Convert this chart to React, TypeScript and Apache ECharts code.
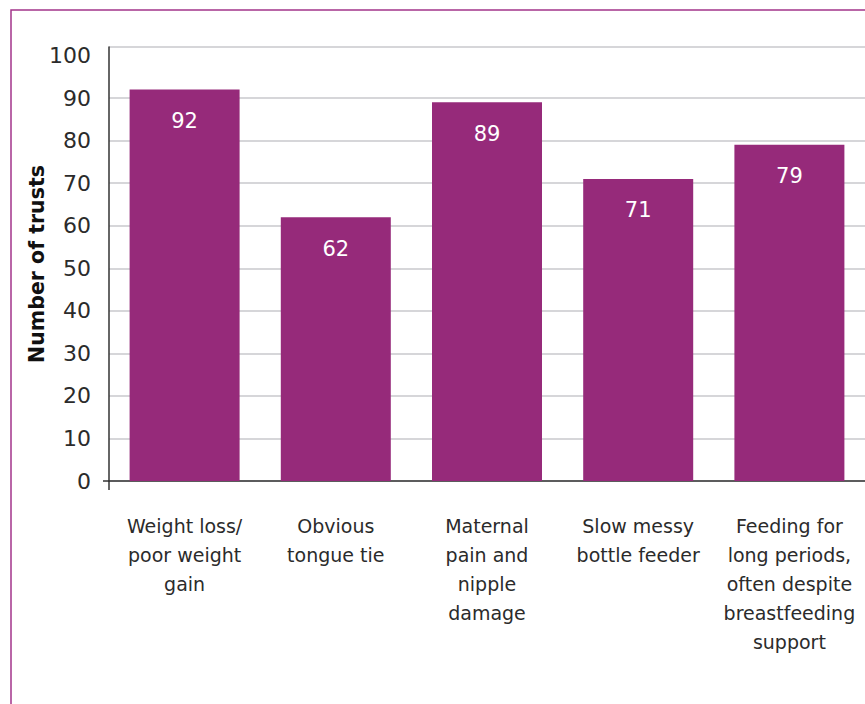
import React, { useEffect, useRef } from "react";
import * as echarts from "echarts";

const categories = [
  "Weight loss/\npoor weight\ngain",
  "Obvious\ntongue tie",
  "Maternal\npain and\nnipple\ndamage",
  "Slow messy\nbottle feeder",
  "Feeding for\nlong periods,\noften despite\nbreastfeeding\nsupport",
];
const trusts = [92, 62, 89, 71, 79];
const yAxisTitle = "Number of trusts";
const yMax = 102;
const yStep = 10;

const PURPLE = "#962a7a";
const FRAME = "#a3358a";
const GRID = "#c9c8cd";
const TEXT = "#2b2b2b";

export default function App() {
  const ref = useRef<HTMLDivElement>(null);

  useEffect(() => {
    if (!ref.current) return;
    const chart = echarts.init(ref.current, null, { renderer: "svg" });

    // one colour per split line; the line at 100 is left out, the top edge (102) is drawn
    const tickCount = Math.floor(yMax / yStep) + 2;
    const splitColors: string[] = [];
    for (let i = 0; i < tickCount; i++) {
      splitColors.push(i === tickCount - 2 ? "rgba(0,0,0,0)" : GRID);
    }

    chart.setOption({
      animation: false,
      backgroundColor: "#ffffff",
      textStyle: { fontFamily: "DejaVu Sans" },
      grid: { left: 109, top: 47, width: 760, height: 434, containLabel: false },
      xAxis: {
        type: "category",
        data: categories,
        axisLine: { show: true, lineStyle: { color: "#333333", width: 1.5 } },
        axisTick: { show: false },
        axisLabel: {
          color: TEXT,
          fontSize: 19,
          lineHeight: 29,
          margin: 30,
          interval: 0,
          align: "center",
          fontFamily: "DejaVu Sans",
        },
      },
      yAxis: {
        type: "value",
        min: 0,
        max: yMax,
        interval: yStep,
        name: yAxisTitle,
        nameLocation: "middle",
        nameGap: 62,
        nameRotate: 90,
        nameMoveOverlap: false,
        nameTextStyle: {
          color: "#111111",
          fontSize: 20.5,
          fontWeight: "bold",
          fontFamily: "DejaVu Sans",
        },
        axisLine: { show: true, lineStyle: { color: "#333333", width: 1.5 } },
        axisTick: { show: false },
        axisLabel: {
          color: TEXT,
          fontSize: 22,
          margin: 18,
          fontFamily: "DejaVu Sans",
          formatter: (v: number) => (v % yStep === 0 ? String(v) : ""),
        },
        splitLine: { show: true, lineStyle: { color: splitColors, width: 1.5 } },
      },
      series: [
        {
          type: "bar",
          data: trusts,
          barWidth: 110,
          itemStyle: { color: PURPLE },
          label: {
            show: true,
            position: "insideTop",
            distance: 21,
            color: "#ffffff",
            fontSize: 21,
            fontFamily: "DejaVu Sans",
          },
        },
      ],
    });

    // small overhangs of the axes past the origin, plus the outer frame
    const origin = chart.convertToPixel({ gridIndex: 0 }, [0, 0]) as number[];
    const x0 = 109;
    const y0 = origin[1];
    chart.setOption({
      graphic: [
        {
          type: "line",
          shape: { x1: x0 - 6, y1: y0, x2: x0, y2: y0 },
          style: { stroke: "#333333", lineWidth: 1.5 },
        },
        {
          type: "line",
          shape: { x1: x0, y1: y0, x2: x0, y2: y0 + 9 },
          style: { stroke: "#333333", lineWidth: 1.5 },
        },
        {
          type: "polyline",
          shape: { points: [[11, 704], [11, 10], [865, 10]] },
          style: { stroke: FRAME, lineWidth: 1.5, fill: "none" },
        },
      ],
    });

    return () => chart.dispose();
  }, []);

  return (
    <div
      ref={ref}
      style={{ position: "absolute", left: 0, top: 0, width: 865, height: 704 }}
    />
  );
}
